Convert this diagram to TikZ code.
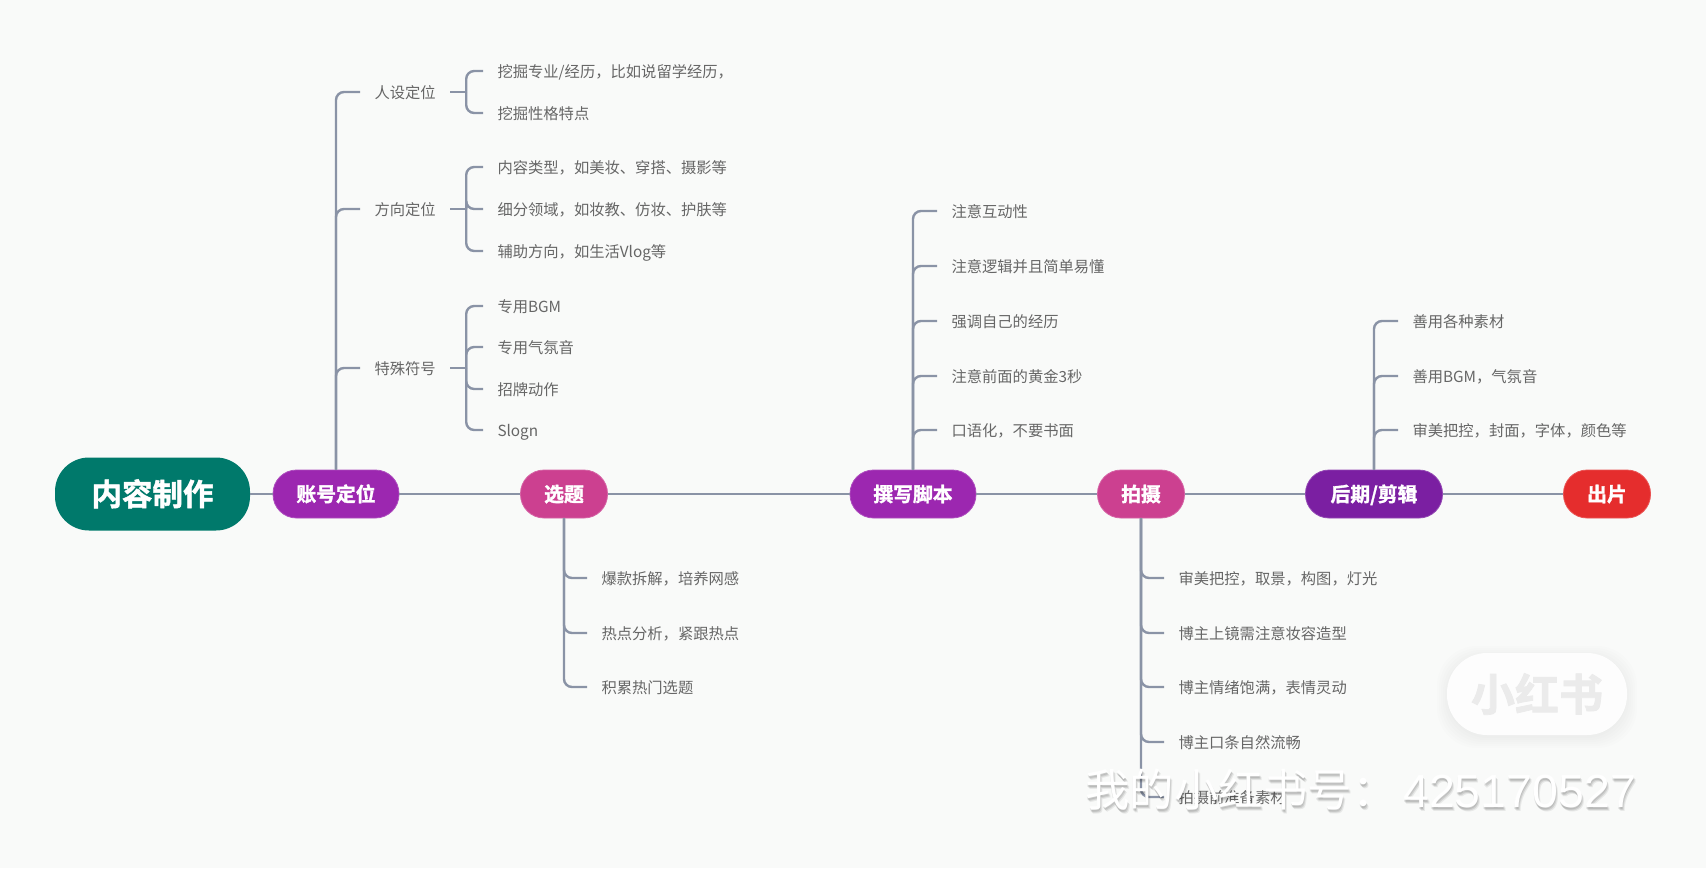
\documentclass[tikz,border=0pt]{standalone}
\usepackage{fontspec}
\setmainfont{Noto Sans CJK SC}[BoldFont={Noto Sans CJK SC Bold},BoldFeatures={FakeBold=1.6}]
\newfontfamily\latinmark{Liberation Sans}
\usetikzlibrary{calc}
\definecolor{pagebg}{HTML}{F9FAF9}
\definecolor{linkgrey}{HTML}{8A93A6}
\definecolor{leafgrey}{HTML}{666666}
\definecolor{roottint}{HTML}{00796B}
\definecolor{purpletint}{HTML}{9C27B0}
\definecolor{pinktint}{HTML}{CC4090}
\definecolor{deeptint}{HTML}{7B1FA2}
\definecolor{redtint}{HTML}{E52D2D}
\tikzset{
  topic/.style={rounded corners=23.5pt,minimum height=48pt,inner sep=0pt,text=white,
    font=\fontsize{19.8pt}{20pt}\selectfont\bfseries,draw=#1!82!white,line width=.8pt,fill=#1,
    text height=17pt,text depth=2pt},
  rootbox/.style={rounded corners=34pt,minimum height=73pt,minimum width=195pt,inner sep=0pt,text=white,
    font=\fontsize{30.5pt}{31pt}\selectfont\bfseries,fill=roottint,
    text height=26pt,text depth=3pt},
  leaf/.style={anchor=west,inner ysep=0pt,inner xsep=14.3pt,text=leafgrey,
    font=\fontsize{15.3pt}{16pt}\selectfont,text height=14pt,text depth=1.3pt},
  link/.style={draw=linkgrey,line width=2.4pt},
  branch/.style={link,rounded corners=8pt},
}
% A trunk leaving one node, with a curved spur to each listed node
\newcommand{\fanout}[2]{\foreach \t in {#2}{\draw[branch] (#1) |- (\t.west);}}
% A short stub from a node into a brace that opens towards the listed nodes
\newcommand{\bracket}[2]{%
  \draw[link] (#1.east) -- ++(16,0) coordinate (#1joint);
  \foreach \t in {#2}{\draw[branch] (#1joint) |- (\t.west);}}
\begin{document}
\begin{tikzpicture}[x=1pt,y=-1pt]
\useasboundingbox (0,0) rectangle (1706,868);
\fill[pagebg] (0,0) rectangle (1706,868);

% Main chain
\node[rootbox] (root) at (152.5,494) {内容制作};
\node[topic=purpletint,minimum width=126pt] (account) at (336,494) {账号定位};
\node[topic=pinktint,minimum width=87pt] (subject) at (564,494) {选题};
\node[topic=purpletint,minimum width=126pt] (script) at (913,494) {撰写脚本};
\node[topic=pinktint,minimum width=87pt] (shoot) at (1141,494) {拍摄};
\node[topic=deeptint,minimum width=137pt] (edit) at (1374,494) {后期/剪辑};
\node[topic=redtint,minimum width=87pt] (publish) at (1607,494) {出片};
\draw[link] (root) -- (account);
\draw[link] (account) -- (subject);
\draw[link] (subject) -- (script);
\draw[link] (script) -- (shoot);
\draw[link] (shoot) -- (edit);
\draw[link] (edit) -- (publish);

% Account positioning
\node[leaf] (persona) at (360,92) {人设定位};
\node[leaf] (direction) at (360,209) {方向定位};
\node[leaf] (symbols) at (360,368) {特殊符号};
\fanout{account.north}{persona,direction,symbols}
\node[leaf] (pa) at (483,71) {挖掘专业/经历，比如说留学经历，};
\node[leaf] (pb) at (483,113) {挖掘性格特点};
\bracket{persona}{pa,pb}
\node[leaf] (da) at (483,167) {内容类型，如美妆、穿搭、摄影等};
\node[leaf] (db) at (483,209) {细分领域，如妆教、仿妆、护肤等};
\node[leaf] (dc) at (483,251) {辅助方向，如生活Vlog等};
\bracket{direction}{da,db,dc}
\node[leaf] (sa) at (483,306) {专用BGM};
\node[leaf] (sb) at (483,347) {专用气氛音};
\node[leaf] (sc) at (483,389) {招牌动作};
\node[leaf] (sd) at (483,430) {Slogn};
\bracket{symbols}{sa,sb,sc,sd}

% Choosing a subject
\node[leaf] (ta) at (587,578) {爆款拆解，培养网感};
\node[leaf] (tb) at (587,633) {热点分析，紧跟热点};
\node[leaf] (tc) at (587,687) {积累热门选题};
\fanout{subject.south}{ta,tb,tc}

% Writing the script
\node[leaf] (wa) at (937,211) {注意互动性};
\node[leaf] (wb) at (937,266) {注意逻辑并且简单易懂};
\node[leaf] (wc) at (937,321) {强调自己的经历};
\node[leaf] (wd) at (937,376) {注意前面的黄金3秒};
\node[leaf] (we) at (937,430) {口语化，不要书面};
\fanout{script.north}{wa,wb,wc,wd,we}

% Shooting
\node[leaf] (fa) at (1164,578) {审美把控，取景，构图，灯光};
\node[leaf] (fb) at (1164,633) {博主上镜需注意妆容造型};
\node[leaf] (fc) at (1164,687) {博主情绪饱满，表情灵动};
\node[leaf] (fd) at (1164,742) {博主口条自然流畅};
\node[leaf] (fe) at (1164,797) {拍摄前准备素材};
\fanout{shoot.south}{fa,fb,fc,fd,fe}

% Post-production
\node[leaf] (ea) at (1398,321) {善用各种素材};
\node[leaf] (eb) at (1398,376) {善用BGM，气氛音};
\node[leaf] (ec) at (1398,430) {审美把控，封面，字体，颜色等};
\fanout{edit.north}{ea,eb,ec}

% Badge in the lower right corner, with a soft shadow built from stacked outlines
\foreach \g in {10,8,...,0}{
  \fill[black,opacity=.006,rounded corners=40pt] (1447-\g,656-\g) rectangle (1627+\g,738+\g);
}
\node[rounded corners=40pt,fill=white!65!pagebg,minimum width=180pt,minimum height=82pt,inner sep=0pt,
  text=black!8,font=\fontsize{44pt}{45pt}\selectfont\bfseries] (badge) at (1537,694) {小红书};

% Account number overlay
\foreach \dx/\dy/\op in {1/3/.10,2/4/.07,0/2/.10}{
  \node[opacity=\op,text=black,anchor=west,inner sep=0pt,font=\fontsize{44.5pt}{45pt}\selectfont] at (1085+\dx,790+\dy) {我的小红书号：};
  \node[opacity=\op,text=black,anchor=west,inner sep=0pt,font=\fontsize{46.5pt}{47pt}\selectfont\latinmark] at (1403+\dx,791+\dy) {425170527};
}
\node[text=white,anchor=west,inner sep=0pt,font=\fontsize{44.5pt}{45pt}\selectfont] (marka) at (1085,790) {我的小红书号：};
\node[text=white,anchor=west,inner sep=0pt,font=\fontsize{46.5pt}{47pt}\selectfont\latinmark] (markb) at (1403,791) {425170527};
\end{tikzpicture}
\end{document}
